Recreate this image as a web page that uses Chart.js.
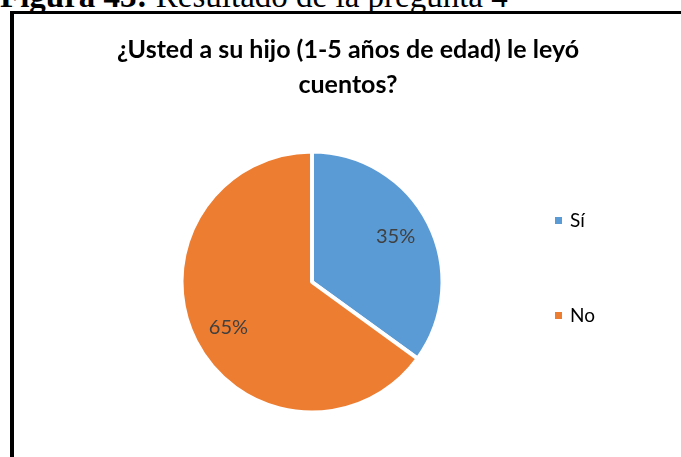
<!DOCTYPE html>
<html>
<head>
<meta charset="utf-8">
<script src="https://cdn.jsdelivr.net/npm/chart.js@4.4.1/dist/chart.umd.min.js"></script>
<style>
  html, body { margin: 0; padding: 0; background: #fff; overflow: hidden; }
  body { width: 681px; height: 457px; position: relative; }
  #caption { position: absolute; left: 0; top: -20px; font-family: "Liberation Serif", "Times New Roman", serif;
             font-size: 33px; line-height: 33px; white-space: nowrap; color: #000; }
  #frame { position: absolute; left: 10px; top: 11px; width: 700px; height: 500px;
           border-left: 4px solid #000; border-top: 3px solid #000; }
  #chart { position: absolute; left: 0; top: 0; }
</style>
</head>
<body>
<div id="caption"><b>Figura 43:</b> Resultado de la pregunta 4</div>
<div id="frame"></div>
<canvas id="chart" width="681" height="457"></canvas>
<script>
// ----------------- datos -----------------
const titleLines = ['¿Usted a su hijo (1-5 años de edad) le leyó', 'cuentos?'];
const categories = ['Sí', 'No'];
const values = [35, 65];
const colors = ['#5B9BD5', '#ED7D31'];

// ----------------- leyenda lateral (caja de layout propia) -----------------
const sideLegend = {
  id: 'sideLegend',
  beforeInit(chart) {
    const box = {
      position: 'right',
      weight: 10,
      fullSize: false,
      options: {},
      width: 0, height: 0, left: 0, top: 0, right: 0, bottom: 0,
      isHorizontal() { return false; },
      update(maxWidth, maxHeight) {
        this.width = 72;
        this.height = maxHeight;
      },
      draw() {
        const ctx = chart.ctx;
        const labels = chart.data.labels;
        const fills = chart.data.datasets[0].backgroundColor;
        ctx.save();
        ctx.font = '19px Lato';
        ctx.textAlign = 'left';
        ctx.textBaseline = 'middle';
        labels.forEach((lbl, i) => {
          const y = this.top + 98.5 + i * 95;
          ctx.fillStyle = fills[i];
          ctx.fillRect(this.left + 31, y - 3.5, 7, 7);
          ctx.fillStyle = '#000';
          ctx.fillText(lbl, this.left + 46, y);
        });
        ctx.restore();
      }
    };
    Chart.layouts.addBox(chart, box);
  }
};

// ----------------- porcentajes dentro del pastel -----------------
const pctLabels = {
  id: 'pctLabels',
  afterDatasetsDraw(chart) {
    const ctx = chart.ctx;
    const meta = chart.getDatasetMeta(0);
    const data = chart.data.datasets[0].data;
    const total = data.reduce((a, b) => a + b, 0);
    ctx.save();
    ctx.font = '20px Lato';
    ctx.fillStyle = '#404040';
    ctx.textAlign = 'center';
    ctx.textBaseline = 'middle';
    meta.data.forEach((arc, i) => {
      const p = arc.getProps(['x', 'y', 'startAngle', 'endAngle', 'outerRadius'], true);
      const mid = (p.startAngle + p.endAngle) / 2 - 0.03;
      const r = p.outerRadius * 0.73;
      ctx.fillText(Math.round(data[i] / total * 100) + '%', p.x + Math.cos(mid) * r, p.y + Math.sin(mid) * r);
    });
    ctx.restore();
  }
};

// ----------------- gráfico -----------------
const ctx = document.getElementById('chart').getContext('2d');
new Chart(ctx, {
  type: 'pie',
  data: {
    labels: categories,
    datasets: [{
      data: values,
      backgroundColor: colors,
      borderColor: '#fff',
      borderWidth: 4,
      radius: 130.5
    }]
  },
  options: {
    responsive: false,
    animation: false,
    layout: { padding: { left: 100, right: 85, top: 0, bottom: 15 } },
    plugins: {
      legend: { display: false },
      tooltip: { enabled: false },
      title: {
        display: true,
        text: titleLines,
        color: '#000',
        font: { family: 'Lato', size: 25, weight: 'bold', lineHeight: '35px' },
        padding: { top: 32, bottom: 20 }
      }
    }
  },
  plugins: [sideLegend, pctLabels]
});
</script>
</body>
</html>
